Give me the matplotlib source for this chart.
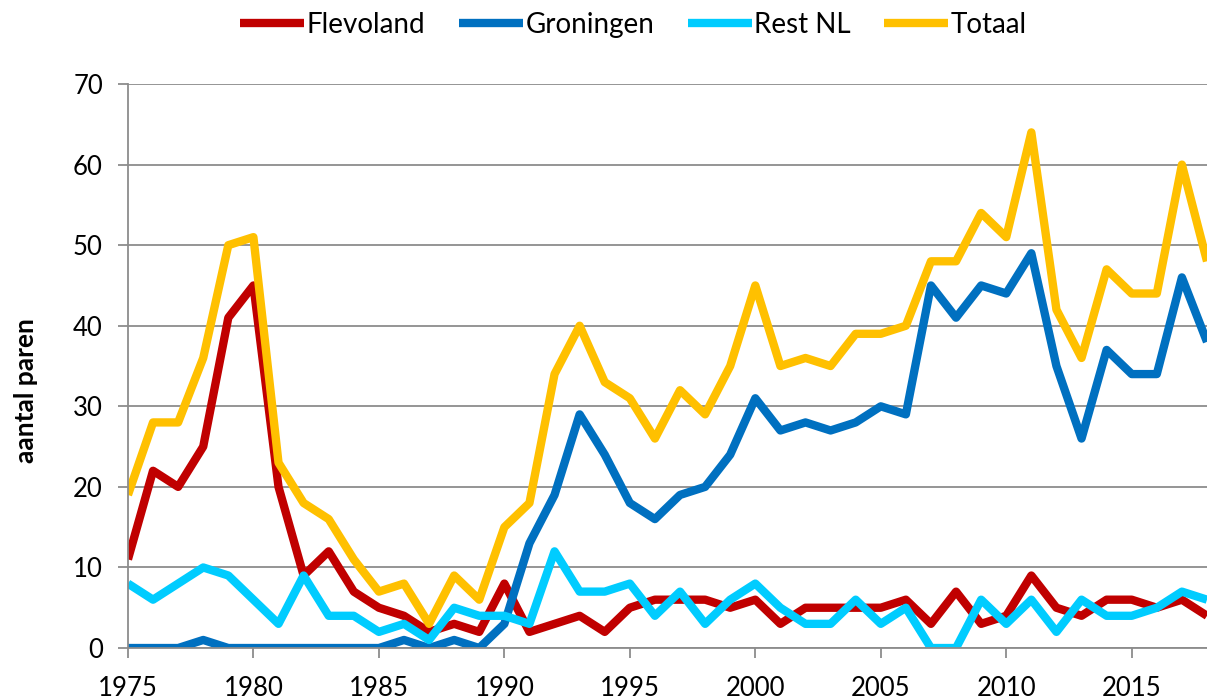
import matplotlib

matplotlib.use("Agg")
import matplotlib.pyplot as plt

years = list(range(1975, 2019))

flevoland = [11, 22, 20, 25, 41, 45, 20, 9, 12, 7, 5, 4, 2, 3, 2, 8, 2, 3, 4, 2,
             5, 6, 6, 6, 5, 6, 3, 5, 5, 5, 5, 6, 3, 7, 3, 4, 9, 5, 4, 6,
             6, 5, 6, 4]
groningen = [0, 0, 0, 1, 0, 0, 0, 0, 0, 0, 0, 1, 0, 1, 0, 3, 13, 19, 29, 24,
             18, 16, 19, 20, 24, 31, 27, 28, 27, 28, 30, 29, 45, 41, 45, 44, 49, 35, 26, 37,
             34, 34, 46, 38]
rest_nl = [8, 6, 8, 10, 9, 6, 3, 9, 4, 4, 2, 3, 1, 5, 4, 4, 3, 12, 7, 7,
           8, 4, 7, 3, 6, 8, 5, 3, 3, 6, 3, 5, 0, 0, 6, 3, 6, 2, 6, 4,
           4, 5, 7, 6]
totaal = [19, 28, 28, 36, 50, 51, 23, 18, 16, 11, 7, 8, 3, 9, 6, 15, 18, 34, 40, 33,
          31, 26, 32, 29, 35, 45, 35, 36, 35, 39, 39, 40, 48, 48, 54, 51, 64, 42, 36, 47,
          44, 44, 60, 48]

series = [
    ("Flevoland", flevoland, "#C00000"),
    ("Groningen", groningen, "#0070C0"),
    ("Rest NL", rest_nl, "#00CCFF"),
    ("Totaal", totaal, "#FFC000"),
]

plt.rcParams["font.family"] = ["Lato", "DejaVu Sans"]
grid_color = "#8c8c8c"

fig = plt.figure(figsize=(12.07, 6.98), dpi=100)
ax = fig.add_axes([0.106, 0.0716, 0.894, 0.808])

for name, vals, color in series:
    ax.plot(years, vals, color=color, lw=6, label=name,
            solid_joinstyle="round", solid_capstyle="butt")

ax.set_xlim(1975, 2018)
ax.set_ylim(0, 70)
ax.set_yticks(range(0, 71, 10))
ax.set_xticks(range(1975, 2019, 5))
ax.yaxis.grid(True, color=grid_color, lw=1.3)
ax.set_axisbelow(True)
for side in ("top", "right"):
    ax.spines[side].set_visible(False)
for side in ("left", "bottom"):
    ax.spines[side].set_color(grid_color)
    ax.spines[side].set_linewidth(1.3)
ax.tick_params(axis="y", length=7, color=grid_color, width=1.3, pad=11, labelsize=18.5)
ax.tick_params(axis="x", length=7, color=grid_color, width=1.3, labelsize=18.5, pad=13)
ax.set_ylabel("aantal paren", fontsize=19, fontweight="bold")
ax.yaxis.set_label_coords(-0.083, 0.457)

fig.legend(loc="center", bbox_to_anchor=(0.525, 0.964), ncol=4, frameon=False,
           fontsize=20, handlelength=2.3, handletextpad=0.1, columnspacing=1.2)

fig.savefig("out.png", dpi=100)
plt.close(fig)
